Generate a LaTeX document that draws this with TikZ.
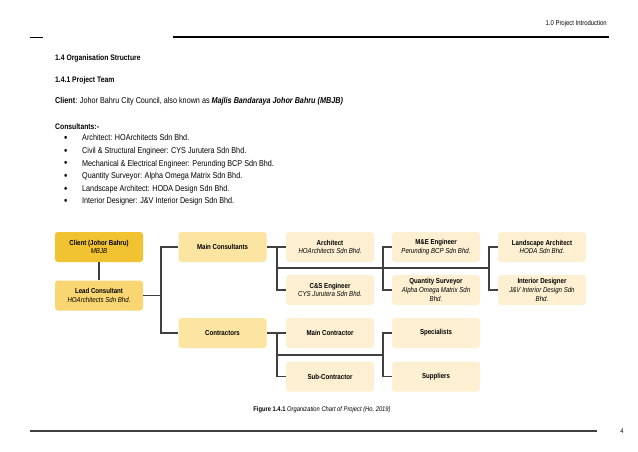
\documentclass[tikz,border=0pt]{standalone}
\usepackage{fontspec}
\setmainfont[FakeStretch=0.85]{Liberation Sans}
\usepackage{xcolor}
\definecolor{clientgold}{HTML}{F1C232}
\definecolor{leadgold}{HTML}{F9D672}
\definecolor{groupgold}{HTML}{FCE4A3}
\definecolor{leafcream}{HTML}{FDF0D2}
\definecolor{linegray}{HTML}{404040}

\begin{document}
\begin{tikzpicture}[x=1pt, y=-1pt,
  body/.style={anchor=base west, inner sep=0, font=\fontsize{8.5}{10}\selectfont},
  head/.style={anchor=base west, inner sep=0, font=\fontsize{8}{10}\selectfont\bfseries},
  dot/.style={anchor=base west, inner sep=0, font=\fontsize{11}{10}\selectfont},
  orgbox/.style={rounded corners=3pt, minimum width=88pt, minimum height=30pt,
    align=center, inner sep=1pt, font=\fontsize{7.2}{8.8}\selectfont},
  conn/.style={linegray, line width=1.2pt}]
  \useasboundingbox (0,0) rectangle (638,452);

  % --- Page header ---
  \node[anchor=base east, inner sep=0, font=\fontsize{7}{8}\selectfont] (hdr) at (607,26) {1.0 Project Introduction};
  \draw[line width=0.9pt] (30,37) -- (43,37);
  \draw[line width=1.4pt] (173,37) -- (609,37);

  % --- Section text ---
  \node[head] (sec) at (55,61) {1.4 Organisation Structure};
  \node[head] (sub) at (55,83) {1.4.1 Project Team};
  \node[body] (cli) at (55,104) {\textbf{Client}: Johor Bahru City Council, also known as \textbf{\textit{Majlis Bandaraya Johor Bahru (MBJB)}}};
  \node[head] (cons) at (55,129.5) {Consultants:-};

  % --- Consultant list ---
  \node[dot] (b1) at (64,142) {•};
  \node[body] (t1) at (82,141) {Architect: HOArchitects Sdn Bhd.};
  \node[dot] (b2) at (64,154.5) {•};
  \node[body] (t2) at (82,153.5) {Civil \& Structural Engineer: CYS Jurutera Sdn Bhd.};
  \node[dot] (b3) at (64,167) {•};
  \node[body] (t3) at (82,166) {Mechanical \& Electrical Engineer: Perunding BCP Sdn Bhd.};
  \node[dot] (b4) at (64,179.5) {•};
  \node[body] (t4) at (82,178.5) {Quantity Surveyor: Alpha Omega Matrix Sdn Bhd.};
  \node[dot] (b5) at (64,192) {•};
  \node[body] (t5) at (82,191) {Landscape Architect: HODA Design Sdn Bhd.};
  \node[dot] (b6) at (64,204.5) {•};
  \node[body] (t6) at (82,203.5) {Interior Designer: J\&V Interior Design Sdn Bhd.};

  % --- Chart: left column ---
  \node[orgbox, fill=clientgold] (client) at (99,247) {\textbf{Client (Johor Bahru)}\\\textit{MBJB}};
  \node[orgbox, fill=leadgold] (lead) at (99,295.5) {\textbf{Lead Consultant}\\\textit{HOArchitects Sdn Bhd.}};

  % --- Chart: groups ---
  \node[orgbox, fill=groupgold] (mainc) at (222.5,247) {\textbf{Main Consultants}};
  \node[orgbox, fill=groupgold] (contr) at (222.5,333) {\textbf{Contractors}};

  % --- Chart: consultants ---
  \node[orgbox, fill=leafcream] (arch) at (330,247) {\textbf{Architect}\\\textit{HOArchitects Sdn Bhd.}};
  \node[orgbox, fill=leafcream] (cse) at (330,290) {\textbf{C\&S Engineer}\\\textit{CYS Jurutera Sdn Bhd.}};
  \node[orgbox, fill=leafcream] (mee) at (436,247) {\textbf{M\&E Engineer}\\\textit{Perunding BCP Sdn Bhd.}};
  \node[orgbox, fill=leafcream] (qs) at (436,290) {\textbf{Quantity Surveyor}\\\textit{Alpha Omega Matrix Sdn}\\\textit{Bhd.}};
  \node[orgbox, fill=leafcream] (land) at (542,247) {\textbf{Landscape Architect}\\\textit{HODA Sdn Bhd.}};
  \node[orgbox, fill=leafcream] (intd) at (542,290) {\textbf{Interior Designer}\\\textit{J\&V Interior Design Sdn}\\\textit{Bhd.}};

  % --- Chart: contractors ---
  \node[orgbox, fill=leafcream] (mainctr) at (330,333) {\textbf{Main Contractor}};
  \node[orgbox, fill=leafcream] (subctr) at (330,376.5) {\textbf{Sub-Contractor}};
  \node[orgbox, fill=leafcream] (spec) at (436,333) {\textbf{Specialists}};
  \node[orgbox, fill=leafcream] (supp) at (436,376.5) {\textbf{Suppliers}};

  % --- Junction points ---
  \coordinate (j0) at (161,295.5);
  \coordinate (j1) at (277,268);
  \coordinate (j2) at (383,268);
  \coordinate (j3) at (489,268);
  \coordinate (k1) at (277,355);
  \coordinate (k2) at (383,355);

  % --- Connectors ---
  \draw[conn] (client) -- (lead);
  \draw[conn] (lead.east) -- (j0);
  \draw[conn] (mainc.west) -| (j0) |- (contr.west);
  \draw[conn] (mainc.east) -- (arch.west);
  \draw[conn] (arch.west) -| (j1) |- (cse.west);
  \draw[conn] (j1) -- (j3);
  \draw[conn] (mee.west) -| (j2) |- (qs.west);
  \draw[conn] (land.west) -| (j3) |- (intd.west);
  \draw[conn] (contr.east) -- (mainctr.west);
  \draw[conn] (mainctr.west) -| (k1) |- (subctr.west);
  \draw[conn] (k1) -- (k2);
  \draw[conn] (spec.west) -| (k2) |- (supp.west);

  % --- Caption and footer ---
  \node[anchor=base, inner sep=0, font=\fontsize{6.8}{8}\selectfont] (cap) at (322,411) {\textbf{Figure 1.4.1} \textit{Organization Chart of Project (Ho, 2019)}};
  \draw[linegray, line width=1.1pt] (30,431) -- (597,431);
  \node[anchor=base, inner sep=0, font=\fontsize{6.8}{8}\selectfont] (pg) at (622,433) {4};
\end{tikzpicture}
\end{document}
